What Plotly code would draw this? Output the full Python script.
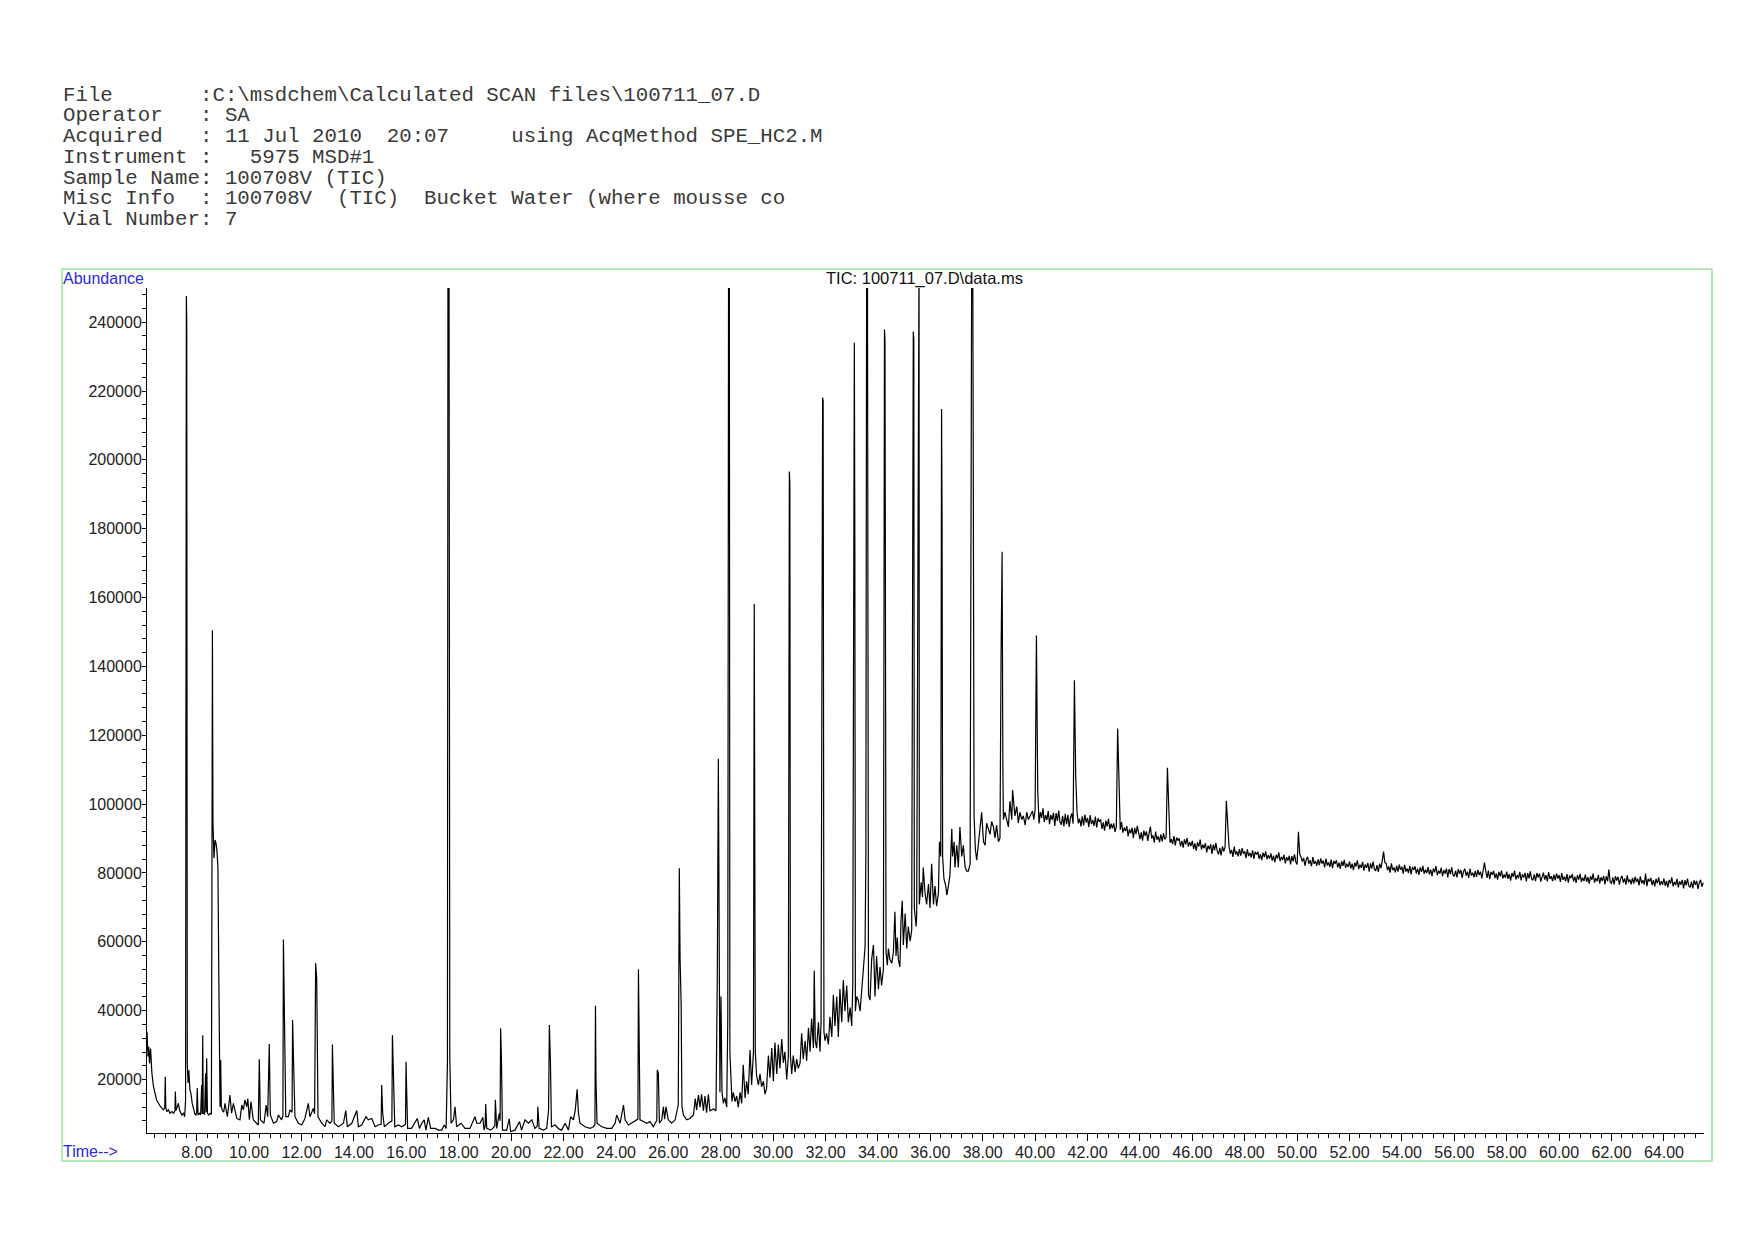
import plotly.graph_objects as go

# ---------------- data (time [min], abundance) ----------------
seg_early = [
    (6.105, 33900), (6.14, 26700), (6.17, 29500), (6.20, 24700), (6.24, 29000), (6.29, 21800),
    (6.35, 18000), (6.41, 16000), (6.47, 14000), (6.54, 13100), (6.62, 12100), (6.73, 11200),
    (6.78, 11800), (6.80, 20800), (6.82, 12000), (6.86, 10700), (6.92, 11200), (6.98, 10200),
    (7.05, 10700), (7.12, 10200), (7.17, 11000), (7.185, 16500), (7.21, 11000), (7.26, 12100),
    (7.30, 13100), (7.35, 11000), (7.43, 9700), (7.50, 10200), (7.54, 9200), (7.575, 14000),
    (7.59, 243000), (7.605, 247600), (7.62, 240000), (7.64, 24700), (7.67, 19000), (7.70, 22700),
    (7.74, 17000), (7.78, 16000), (7.83, 13000), (7.88, 11000), (7.93, 10000), (7.97, 9700),
    (8.00, 10500), (8.02, 17500), (8.05, 9700), (8.10, 10200), (8.15, 9700), (8.19, 18400),
    (8.21, 10000), (8.23, 32900), (8.25, 10200), (8.30, 10000), (8.34, 21800), (8.36, 10500),
    (8.38, 26200), (8.41, 10200), (8.46, 9700), (8.51, 10200), (8.56, 10000), (8.58, 71000),
    (8.60, 150500), (8.62, 95000), (8.66, 84300), (8.70, 89600), (8.74, 88500), (8.77, 86700),
    (8.81, 81800), (8.84, 53800), (8.86, 15000), (8.89, 12000), (8.915, 25700), (8.94, 12100),
    (8.98, 11000), (9.03, 10500), (9.08, 13100), (9.17, 9200), (9.27, 15500), (9.33, 10200),
    (9.40, 13100), (9.53, 8700), (9.65, 8300), (9.72, 12600), (9.78, 11200), (9.84, 14100),
    (9.91, 12100), (9.95, 14500), (10.01, 8300), (10.07, 13600), (10.16, 8300), (10.29, 7300),
    (10.35, 6800), (10.39, 25900), (10.43, 8300), (10.57, 7300), (10.65, 12600), (10.71, 9200),
    (10.77, 30300), (10.81, 9700), (10.93, 7300), (11.05, 7800), (11.12, 9700), (11.24, 8300),
    (11.29, 9500), (11.31, 60700), (11.35, 30000), (11.40, 9200), (11.50, 9200), (11.56, 11200),
    (11.64, 10500), (11.66, 37300), (11.70, 24200), (11.75, 9200), (11.88, 7300), (12.01, 6800),
    (12.13, 8700), (12.26, 13100), (12.32, 9200), (12.45, 11600), (12.50, 10000), (12.54, 53800),
    (12.58, 49400), (12.63, 9200), (12.77, 7300), (12.90, 6300), (12.96, 8300), (13.09, 7300),
    (13.16, 8000), (13.18, 30200), (13.20, 23300), (13.25, 7300), (13.41, 6300), (13.60, 7300),
    (13.69, 11000), (13.75, 6300), (13.92, 7300), (14.11, 11000), (14.17, 6300), (14.30, 6800),
    (14.46, 9200), (14.55, 8300), (14.68, 8700), (14.81, 6300), (14.93, 6800), (15.04, 7000),
    (15.06, 18400), (15.10, 10200), (15.16, 6300), (15.31, 7300), (15.45, 8000), (15.47, 32900),
    (15.51, 16000), (15.56, 6300), (15.70, 6800), (15.82, 6300), (15.97, 7000), (15.99, 25200),
    (16.01, 17900), (16.05, 5800), (16.20, 5800), (16.42, 8700), (16.50, 5800), (16.59, 7300),
    (16.68, 8300), (16.75, 5300), (16.84, 9000), (16.93, 5800), (17.10, 5800), (17.22, 5300),
    (17.35, 5300), (17.45, 6800), (17.52, 5800), (17.57, 24700), (17.59, 260000), (17.63, 260000),
    (17.66, 26200), (17.71, 7300), (17.80, 8300), (17.86, 12100), (17.92, 6300), (18.09, 7300),
    (18.24, 5800), (18.43, 5800), (18.56, 8300), (18.62, 9200), (18.69, 7300),
]

seg_middle = [
    (18.81, 7300), (18.92, 9000), (18.97, 5300), (19.01, 6500), (19.03, 12900), (19.07, 5800),
    (19.22, 5300), (19.30, 5800), (19.38, 6500), (19.40, 14100), (19.45, 5800), (19.55, 10200),
    (19.58, 8000), (19.60, 34900), (19.63, 26700), (19.67, 5300), (19.83, 5300), (19.93, 8600),
    (19.98, 4900), (20.15, 5300), (20.32, 7800), (20.40, 5300), (20.53, 8300), (20.66, 7300),
    (20.79, 8300), (20.91, 5800), (21.00, 6500), (21.02, 12100), (21.07, 5800), (21.23, 5300),
    (21.36, 5800), (21.43, 11200), (21.46, 35850), (21.50, 25700), (21.54, 6300), (21.68, 6800),
    (21.80, 5800), (21.93, 5300), (22.06, 7300), (22.19, 5300), (22.27, 9200), (22.38, 8300),
    (22.45, 11200), (22.52, 17200), (22.57, 10200), (22.63, 7300), (22.82, 6300), (23.01, 5800),
    (23.14, 6300), (23.20, 7000), (23.22, 41400), (23.24, 19900), (23.28, 7300), (23.46, 6300),
    (23.65, 5800), (23.84, 5800), (23.97, 7300), (24.03, 9700), (24.16, 7300), (24.29, 12600),
    (24.35, 8300), (24.48, 6800), (24.67, 7800), (24.79, 8300), (24.84, 8500), (24.86, 52000),
    (24.88, 40700), (24.92, 8300), (25.05, 7800), (25.18, 7300), (25.30, 7800), (25.43, 6300),
    (25.53, 7800), (25.56, 8000), (25.58, 22800), (25.62, 21800), (25.66, 7300), (25.75, 8300),
    (25.81, 12100), (25.86, 8500), (25.91, 12100), (26.00, 8300), (26.13, 7300), (26.26, 8300),
    (26.38, 12600), (26.42, 81400), (26.45, 54700), (26.49, 42100), (26.52, 12100), (26.58, 9700),
    (26.70, 8300), (26.83, 8700), (26.96, 9700), (27.03, 14500), (27.08, 11200), (27.15, 15500),
]

seg_hump = [
    (27.21, 12000), (27.27, 15740), (27.34, 10930), (27.40, 15210), (27.46, 10390), (27.53, 15740),
    (27.59, 10930), (27.72, 11460), (27.82, 10930), (27.87, 50010), (27.91, 113180), (27.94, 26990),
    (27.97, 16280), (28.01, 44120), (28.05, 16280), (28.10, 13070), (28.16, 14670), (28.23, 12000),
    (28.27, 37690), (28.30, 260000), (28.33, 260000), (28.35, 28060), (28.39, 20560), (28.43, 13610),
    (28.48, 16280), (28.55, 13610), (28.61, 15210), (28.67, 12000), (28.74, 16280), (28.80, 13070),
    (28.86, 24310), (28.93, 14670), (28.99, 19490), (29.05, 15740), (29.12, 28590), (29.18, 18420),
    (29.25, 28060), (29.28, 158150), (29.32, 28060), (29.37, 21100), (29.44, 18420), (29.50, 21630),
    (29.56, 17890), (29.63, 19490), (29.69, 15740), (29.75, 17360), (29.82, 26990), (29.88, 20560),
    (29.95, 29130), (30.01, 19490), (30.07, 30730), (30.14, 21630), (30.20, 30190), (30.26, 23240),
    (30.33, 31800), (30.39, 24850), (30.45, 28060), (30.52, 20030), (30.58, 26450), (30.62, 196600),
    (30.64, 193200), (30.66, 26990), (30.71, 21630), (30.77, 26990), (30.84, 22170), (30.90, 25910),
    (30.96, 23240), (31.03, 24850), (31.09, 33410), (31.15, 25910), (31.22, 31270), (31.28, 25380),
    (31.35, 35020), (31.41, 28060), (31.47, 37690), (31.54, 29130), (31.57, 51610), (31.61, 31270),
    (31.66, 29130), (31.73, 36620), (31.79, 28060), (31.83, 36620), (31.89, 218100), (31.91, 217100),
    (31.94, 33950), (31.98, 31270), (32.04, 33410), (32.11, 30190), (32.17, 38230), (32.24, 32340),
    (32.30, 44650), (32.36, 35550), (32.43, 44120), (32.49, 32340), (32.55, 46260), (32.62, 36620),
    (32.68, 48940), (32.74, 39830), (32.81, 47330), (32.87, 36620), (32.94, 40900), (33.00, 35550),
    (33.04, 47330), (33.10, 234050), (33.12, 174800), (33.14, 39830), (33.19, 44120), (33.25, 43050),
    (33.32, 39830), (33.38, 47330), (33.44, 51610), (33.51, 58570), (33.54, 84800), (33.57, 260000),
    (33.60, 260000), (33.64, 44650), (33.70, 43050), (33.76, 54830), (33.83, 59110), (33.89, 44120),
    (33.95, 55900), (34.02, 46260), (34.08, 52680), (34.14, 47330), (34.21, 52150), (34.25, 237900),
    (34.27, 234800), (34.31, 56970), (34.36, 53220), (34.40, 58040), (34.46, 54830), (34.53, 53750),
    (34.59, 56970), (34.65, 68740), (34.69, 55900), (34.74, 61250), (34.78, 54830), (34.84, 52680),
    (34.88, 66070), (34.93, 71960), (34.97, 59110), (35.04, 68210), (35.10, 58040), (35.16, 64460),
    (35.23, 60180), (35.29, 63390), (35.35, 237250), (35.37, 235100), (35.39, 69810), (35.46, 64460),
    (35.48, 67670), (35.53, 166600), (35.55, 260000), (35.57, 260000), (35.58, 70890), (35.65, 77310),
    (35.70, 73020), (35.73, 81590), (35.80, 74100), (35.86, 70890), (35.93, 76770), (35.99, 69810),
    (36.05, 82660), (36.12, 70890), (36.18, 76240), (36.24, 70350), (36.31, 74100), (36.35, 89090),
    (36.40, 84800), (36.43, 214800), (36.45, 180800), (36.47, 84800), (36.52, 78380), (36.59, 76240),
    (36.63, 73560), (36.69, 76240), (36.75, 79450), (36.82, 92830), (36.85, 84800), (36.91, 89090),
    (36.94, 81590), (37.01, 88020), (37.07, 81590), (37.13, 93370), (37.20, 84800), (37.26, 88020),
    (37.33, 81590), (37.39, 80520), (37.45, 80520), (37.52, 82660), (37.54, 157610), (37.58, 260000),
    (37.62, 260000), (37.67, 96580), (37.72, 86950), (37.77, 83730), (37.83, 88020), (37.90, 93370),
    (37.96, 97650), (38.03, 89090), (38.09, 88020), (38.15, 94440), (38.22, 92300), (38.28, 91230),
    (38.34, 94970), (38.41, 93370), (38.47, 90160), (38.53, 93910), (38.60, 89090), (38.66, 90160),
    (38.70, 142620), (38.74, 173300), (38.77, 110000), (38.79, 95510), (38.85, 97650), (38.92, 95510),
    (38.98, 93370), (39.04, 100860), (39.11, 95510), (39.14, 104080), (39.20, 98720), (39.23, 96580),
    (39.30, 99260), (39.36, 94440), (39.42, 97650), (39.49, 95510), (39.55, 96580), (39.62, 93910),
    (39.68, 97650), (39.74, 95510), (39.81, 96580),
]

seg_tail_a = [
    (39.90, 98000), (39.95, 95500),
    (40.00, 98300), (40.05, 149000), (40.10, 104000), (40.15, 94400), (40.20, 97700), (40.25, 96000),
    (40.30, 98800), (40.35, 94800), (40.40, 96800), (40.45, 95400), (40.50, 98000), (40.55, 94200),
    (40.60, 96900), (40.65, 95400), (40.70, 97500), (40.75, 93700), (40.80, 97400), (40.85, 95100),
    (40.90, 98100), (40.95, 94800),
    (41.00, 94000), (41.05, 96600), (41.10, 93500), (41.15, 97200), (41.20, 94200), (41.25, 96900),
    (41.30, 93400), (41.35, 96100), (41.40, 97300), (41.45, 94300), (41.50, 136000), (41.55, 108000),
    (41.60, 97550), (41.65, 94450), (41.70, 95750), (41.75, 93550), (41.80, 96450), (41.85, 93850),
    (41.90, 96950), (41.95, 94650),
    (42.00, 96000), (42.05, 93400), (42.10, 96800), (42.15, 94200), (42.20, 95400), (42.25, 93700),
    (42.30, 96400), (42.35, 93200), (42.40, 95900), (42.45, 94900), (42.50, 95600), (42.55, 92800),
    (42.60, 94700), (42.65, 92300), (42.70, 95200), (42.75, 93500), (42.80, 95700), (42.85, 92700),
    (42.90, 94300), (42.95, 93000),
    (43.00, 94400), (43.05, 91900), (43.10, 93600), (43.15, 122000), (43.20, 104000), (43.25, 92600),
    (43.30, 94800), (43.35, 91700), (43.40, 93200), (43.45, 92200), (43.50, 93600), (43.55, 90600),
    (43.60, 92700), (43.65, 91500), (43.70, 93200), (43.75, 90200), (43.80, 93100), (43.85, 91300),
    (43.90, 93700), (43.95, 91000),
    (44.00, 89800), (44.05, 91800), (44.10, 89400), (44.15, 92300), (44.20, 90800), (44.25, 92100),
    (44.30, 89300), (44.35, 91500), (44.40, 93500), (44.45, 90000), (44.50, 90950), (44.55, 88850),
    (44.60, 92050), (44.65, 89650), (44.70, 90650), (44.75, 88950), (44.80, 91250), (44.85, 89150),
    (44.90, 91550), (44.95, 89750),
    (45.00, 90400), (45.05, 110600), (45.10, 96000), (45.15, 88800), (45.20, 89800), (45.25, 88400),
    (45.30, 90700), (45.35, 88000), (45.40, 90300), (45.45, 89400), (45.50, 90050), (45.55, 87750),
    (45.60, 89350), (45.65, 87350), (45.70, 89750), (45.75, 88350), (45.80, 90150), (45.85, 87650),
    (45.90, 88950), (45.95, 87850),
    (46.00, 89300), (46.05, 87000), (46.10, 88600), (46.15, 86500), (46.20, 88900), (46.25, 87700),
    (46.30, 89700), (46.35, 86800), (46.40, 88200), (46.45, 87200), (46.50, 88650), (46.55, 85950),
    (46.60, 87950), (46.65, 86850), (46.70, 88350), (46.75, 85550), (46.80, 88250), (46.85, 86550),
    (46.90, 88750), (46.95, 86350),
    (47.00, 85400), (47.05, 87300), (47.10, 85100), (47.15, 87700), (47.20, 86300), (47.25, 87500),
    (47.30, 101000), (47.35, 92000), (47.40, 87800), (47.45, 85600), (47.50, 86700), (47.55, 84700),
    (47.60, 87700), (47.65, 85400), (47.70, 86300), (47.75, 84800), (47.80, 86900), (47.85, 85000),
    (47.90, 87200), (47.95, 85600),
    (48.00, 86300), (48.05, 84300), (48.10, 86900), (48.15, 84900), (48.20, 85800), (48.25, 84500),
    (48.30, 86600), (48.35, 84100), (48.40, 86200), (48.45, 85400), (48.50, 86200), (48.55, 84100),
    (48.60, 85500), (48.65, 83700), (48.70, 85900), (48.75, 84600), (48.80, 86300), (48.85, 84000),
    (48.90, 85200), (48.95, 84200),
    (49.00, 85700), (49.05, 83600), (49.10, 85000), (49.15, 83100), (49.20, 85300), (49.25, 84200),
    (49.30, 86000), (49.35, 83400), (49.40, 84700), (49.45, 83800), (49.50, 85300), (49.55, 82800),
    (49.60, 84600), (49.65, 83600), (49.70, 85000), (49.75, 82500), (49.80, 84900), (49.85, 83400),
    (49.90, 85400), (49.95, 83200),
    (50.00, 82500), (50.05, 92000), (50.10, 85500), (50.15, 84600), (50.20, 83300), (50.25, 84400),
    (50.30, 82100), (50.35, 83900), (50.40, 84700), (50.45, 82700), (50.50, 83750), (50.55, 81950),
    (50.60, 84650), (50.65, 82650), (50.70, 83450), (50.75, 82050), (50.80, 83950), (50.85, 82250),
    (50.90, 84250), (50.95, 82750),
    (51.00, 83600), (51.05, 81600), (51.10, 84200), (51.15, 82200), (51.20, 83100), (51.25, 81800),
    (51.30, 83900), (51.35, 81400), (51.40, 83500), (51.45, 82700), (51.50, 83700), (51.55, 81600),
    (51.60, 83000), (51.65, 81200), (51.70, 83400), (51.75, 82100), (51.80, 83800), (51.85, 81500),
    (51.90, 82700), (51.95, 81700),
    (52.00, 83400), (52.05, 81300), (52.10, 82700), (52.15, 80800), (52.20, 83000), (52.25, 81900),
    (52.30, 83700), (52.35, 81100), (52.40, 82400), (52.45, 81500), (52.50, 83200), (52.55, 80700),
    (52.60, 82500), (52.65, 81500), (52.70, 82900), (52.75, 80400), (52.80, 82800), (52.85, 81300),
    (52.90, 83300), (52.95, 81100),
]

seg_tail_b = [
    (53.00, 80600), (53.05, 82300), (53.10, 80300), (53.15, 82700), (53.20, 81400), (53.25, 83500),
    (53.30, 86200), (53.35, 83000), (53.40, 82800), (53.45, 80800), (53.50, 81900), (53.55, 80100),
    (53.60, 82800), (53.65, 80800), (53.70, 81600), (53.75, 80200), (53.80, 82100), (53.85, 80400),
    (53.90, 82400), (53.95, 80900),
    (54.00, 81800), (54.05, 79800), (54.10, 82400), (54.15, 80400), (54.20, 81300), (54.25, 80000),
    (54.30, 82100), (54.35, 79600), (54.40, 81700), (54.45, 80900), (54.50, 81950), (54.55, 79850),
    (54.60, 81250), (54.65, 79450), (54.70, 81650), (54.75, 80350), (54.80, 82050), (54.85, 79750),
    (54.90, 80950), (54.95, 79950),
    (55.00, 81700), (55.05, 79600), (55.10, 81000), (55.15, 79100), (55.20, 81300), (55.25, 80200),
    (55.30, 82000), (55.35, 79400), (55.40, 80700), (55.45, 79800), (55.50, 81550), (55.55, 79050),
    (55.60, 80850), (55.65, 79850), (55.70, 81250), (55.75, 78750), (55.80, 81150), (55.85, 79650),
    (55.90, 81650), (55.95, 79450),
    (56.00, 79000), (56.05, 80700), (56.10, 78700), (56.15, 81100), (56.20, 79800), (56.25, 80900),
    (56.30, 78600), (56.35, 80400), (56.40, 81200), (56.45, 79200), (56.50, 80400), (56.55, 78600),
    (56.60, 81300), (56.65, 79300), (56.70, 80100), (56.75, 78700), (56.80, 80600), (56.85, 78900),
    (56.90, 80900), (56.95, 79400),
    (57.00, 80400), (57.05, 78400), (57.10, 81000), (57.15, 83000), (57.20, 80500), (57.25, 78600),
    (57.30, 80700), (57.35, 78200), (57.40, 80300), (57.45, 79500), (57.50, 80600), (57.55, 78500),
    (57.60, 79900), (57.65, 78100), (57.70, 80300), (57.75, 79000), (57.80, 80700), (57.85, 78400),
    (57.90, 79600), (57.95, 78600),
    (58.00, 80400), (58.05, 78300), (58.10, 79700), (58.15, 77800), (58.20, 80000), (58.25, 78900),
    (58.30, 80700), (58.35, 78100), (58.40, 79400), (58.45, 78500), (58.50, 80350), (58.55, 77850),
    (58.60, 79650), (58.65, 78650), (58.70, 80050), (58.75, 77550), (58.80, 79950), (58.85, 78450),
    (58.90, 80450), (58.95, 78250),
    (59.00, 77900), (59.05, 79600), (59.10, 77600), (59.15, 80000), (59.20, 78700), (59.25, 79800),
    (59.30, 77500), (59.35, 79300), (59.40, 80100), (59.45, 78100), (59.50, 79350), (59.55, 77550),
    (59.60, 80250), (59.65, 78250), (59.70, 79050), (59.75, 77650), (59.80, 79550), (59.85, 77850),
    (59.90, 79850), (59.95, 78350),
    (60.00, 79400), (60.05, 77400), (60.10, 80000), (60.15, 78000), (60.20, 78900), (60.25, 77600),
    (60.30, 79700), (60.35, 77200), (60.40, 79300), (60.45, 78500), (60.50, 79650), (60.55, 77550),
    (60.60, 78950), (60.65, 77150), (60.70, 79350), (60.75, 78050), (60.80, 79750), (60.85, 77450),
    (60.90, 78650), (60.95, 77650),
    (61.00, 79500), (61.05, 77400), (61.10, 78800), (61.15, 76900), (61.20, 79100), (61.25, 78000),
    (61.30, 79800), (61.35, 77200), (61.40, 78500), (61.45, 77600), (61.50, 79450), (61.55, 76950),
    (61.60, 78750), (61.65, 77750), (61.70, 79150), (61.75, 76650), (61.80, 79050), (61.85, 77550),
    (61.90, 81000), (61.95, 77350),
    (62.00, 77000), (62.05, 78700), (62.10, 76700), (62.15, 79100), (62.20, 77800), (62.25, 78900),
    (62.30, 76600), (62.35, 78400), (62.40, 79200), (62.45, 77200), (62.50, 78400), (62.55, 76600),
    (62.60, 79300), (62.65, 77300), (62.70, 78100), (62.75, 76700), (62.80, 78600), (62.85, 76900),
    (62.90, 78900), (62.95, 77400),
    (63.00, 78400), (63.05, 76400), (63.10, 79000), (63.15, 77000), (63.20, 77900), (63.25, 76600),
    (63.30, 79800), (63.35, 76200), (63.40, 78300), (63.45, 77500), (63.50, 78600), (63.55, 76500),
    (63.60, 77900), (63.65, 76100), (63.70, 78300), (63.75, 77000), (63.80, 78700), (63.85, 76400),
    (63.90, 77600), (63.95, 76600),
    (64.00, 78400), (64.05, 76300), (64.10, 77700), (64.15, 75800), (64.20, 78000), (64.25, 76900),
    (64.30, 78700), (64.35, 76100), (64.40, 77400), (64.45, 76500), (64.50, 78300), (64.55, 75800),
    (64.60, 77600), (64.65, 76600), (64.70, 78000), (64.75, 75500), (64.80, 77900), (64.85, 76400),
    (64.90, 78400), (64.95, 76200),
    (65.00, 75800), (65.05, 77500), (65.10, 75500), (65.15, 77900), (65.20, 76600), (65.25, 77700),
    (65.30, 75400), (65.35, 77200), (65.40, 78000), (65.45, 76000), (65.50, 77200),
]

header_lines = [
    "File       :C:\\msdchem\\Calculated SCAN files\\100711_07.D",
    "Operator   : SA",
    "Acquired   : 11 Jul 2010  20:07     using AcqMethod SPE_HC2.M",
    "Instrument :   5975 MSD#1",
    "Sample Name: 100708V (TIC)",
    "Misc Info  : 100708V  (TIC)  Bucket Water (where mousse co",
    "Vial Number: 7",
]
plot_title = "TIC: 100711_07.D\\data.ms"
y_label = "Abundance"
x_label = "Time-->"

# ---------------- assemble ----------------
points = seg_early + seg_middle + seg_hump + seg_tail_a + seg_tail_b
times = [p[0] for p in points]
abund = [p[1] for p in points]

W, H = 1754, 1240
L, R, T, B = 147, 1704, 288, 1133  # plot area in pixels


def pxx(x):
    return (x - L) / (R - L)


def pxy(y):
    return (B - y) / (B - T)


fig = go.Figure(
    go.Scatter(x=times, y=abund, mode="lines",
               line=dict(color="black", width=1.2), hoverinfo="skip")
)

tickfont = dict(family="Liberation Sans, Arial, sans-serif", size=16, color="#222222")

fig.update_layout(
    width=W, height=H, autosize=False,
    margin=dict(l=L, r=W - R, t=T, b=H - B, pad=0),
    paper_bgcolor="white", plot_bgcolor="white", showlegend=False,
)
fig.update_xaxes(
    range=[6.103, 65.53], showline=True, linecolor="black", linewidth=1,
    ticks="outside", ticklen=7, tickwidth=1, tickcolor="black",
    tick0=0, dtick=2, tickformat=".2f", showgrid=False, zeroline=False,
    tickfont=tickfont, ticklabelstandoff=-2,
    minor=dict(ticks="outside", tick0=0, dtick=0.4, ticklen=4, tickcolor="black", showgrid=False),
)
fig.update_yaxes(
    range=[4470, 249930], showline=True, linecolor="black", linewidth=1,
    ticks="outside", ticklen=4, tickwidth=1, tickcolor="black",
    tick0=0, dtick=20000, tickformat="d", showgrid=False, zeroline=False,
    tickfont=tickfont, ticklabelstandoff=-3,
    minor=dict(ticks="outside", tick0=0, dtick=4000, ticklen=4, tickcolor="black", showgrid=False),
)

# green frame
fig.add_shape(type="rect", xref="paper", yref="paper",
              x0=pxx(62), x1=pxx(1712), y0=pxy(1161), y1=pxy(269),
              line=dict(color="#9be59b", width=1.5), fillcolor="rgba(0,0,0,0)", layer="below")

annotations = []
for i, line in enumerate(header_lines):
    annotations.append(dict(
        text=line.replace(" ", "\u00a0"), xref="paper", yref="paper",
        x=pxx(62), y=pxy(95.3 + 20.7 * i), xanchor="left", yanchor="middle",
        showarrow=False, borderpad=0,
        font=dict(family="Liberation Mono, Courier New, monospace", size=20.75, color="#3a3a3a"),
    ))
annotations.append(dict(
    text=y_label, xref="paper", yref="paper", x=pxx(62), y=pxy(278.5),
    xanchor="left", yanchor="middle", showarrow=False, borderpad=0,
    font=dict(family="Liberation Sans, Arial, sans-serif", size=16, color="#2b2bdd"),
))
annotations.append(dict(
    text=x_label, xref="paper", yref="paper", x=pxx(62), y=pxy(1151),
    xanchor="left", yanchor="middle", showarrow=False, borderpad=0,
    font=dict(family="Liberation Sans, Arial, sans-serif", size=16, color="#2b2bdd"),
))
annotations.append(dict(
    text=plot_title, xref="paper", yref="paper", x=pxx(924), y=pxy(279),
    xanchor="center", yanchor="middle", showarrow=False, borderpad=0,
    font=dict(family="Liberation Sans, Arial, sans-serif", size=16.5, color="#111111"),
))
fig.update_layout(annotations=annotations)

fig.write_html("out.html", config={"displayModeBar": False},
               post_script="document.body.style.margin='0px';")
